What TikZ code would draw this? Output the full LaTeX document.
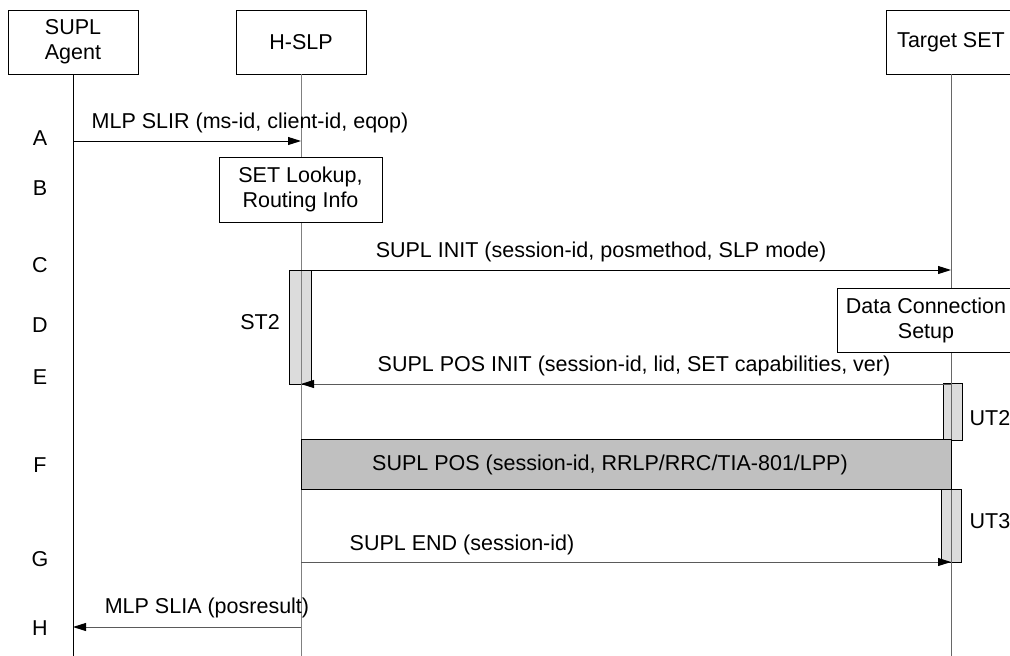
\documentclass[tikz,border=0pt]{standalone}
\usepackage{fontspec}
\setmainfont{Liberation Sans}
\usetikzlibrary{arrows.meta}

\definecolor{lifegray}{HTML}{808080}
\definecolor{timerfill}{HTML}{DCDCDC}
\definecolor{posfill}{HTML}{C0C0C0}

\tikzset{
  entity/.style={draw, fill=white, minimum width=130pt, minimum height=64pt, align=center, inner sep=0pt},
  procbox/.style={draw, fill=white, align=center, inner sep=0pt},
  msg/.style={-{Triangle[length=13pt,width=8pt,color=black]}},
  timerbar/.style={draw, fill=timerfill},
  rowlabel/.style={anchor=center}
}

\begin{document}
\begin{tikzpicture}[x=1pt,y=-1pt, line width=0.9pt,
    every node/.style={font=\fontsize{21.5}{25}\selectfont}]
  \useasboundingbox (0,0) rectangle (1010,656);
  \clip (0,0) rectangle (1010,656);

  % timers
  \draw[timerbar] (289,270) rectangle (311,384);
  \draw[timerbar] (943,383) rectangle (962,440);
  \draw[timerbar] (941,489) rectangle (961,562);

  % entities and lifelines
  \node[entity] (agent) at (73,42) {SUPL\\Agent};
  \node[entity] (hslp) at (301,42) {H-SLP};
  \node[entity] (set) at (951,42) {Target SET};
  \coordinate (agent end) at (73,656);
  \coordinate (hslp end) at (301,656);
  \coordinate (set end) at (951,656);
  \draw (agent.south) -- (agent end);
  \draw[lifegray] (hslp.south) -- (hslp end);
  \draw[lifegray!80!black] (set.south) -- (set end);

  % row labels
  \node[rowlabel] at (40,138) {A};
  \node[rowlabel] at (40,188) {B};
  \node[rowlabel] at (40,265) {C};
  \node[rowlabel] at (40,325) {D};
  \node[rowlabel] at (40,377) {E};
  \node[rowlabel] at (40,465) {F};
  \node[rowlabel] at (40,559) {G};
  \node[rowlabel] at (40,628) {H};

  % A
  \coordinate (a1) at (73,141);
  \coordinate (a2) at (301,141);
  \draw[msg] (a1) -- (a2);
  \node at (250,123) {MLP SLIR (ms-id, client-id, eqop)};

  % B
  \node[procbox, minimum width=163pt, minimum height=65pt] (lookup) at (300.5,189.5) {SET Lookup,\\Routing Info};

  % C
  \coordinate (c1) at (301,270);
  \coordinate (c2) at (951,270);
  \draw[msg] (c1) -- (c2);
  \node at (601,252) {SUPL INIT (session-id, posmethod, SLP mode)};
  \node at (260,322) {ST2};

  % D
  \node[procbox, minimum width=178pt, minimum height=64pt] (dataconn) at (926,320) {Data Connection\\Setup};

  % E
  \coordinate (e1) at (951,384);
  \coordinate (e2) at (301,384);
  \draw[msg, lifegray!70!black] (e1) -- (e2);
  \node at (634,366) {SUPL POS INIT (session-id, lid, SET capabilities, ver)};
  \node at (990,418) {UT2};

  % F
  \draw[fill=posfill] (301,439) rectangle (951,489);
  \node at (610,465) {SUPL POS (session-id, RRLP/RRC/TIA-801/LPP)};

  % G
  \coordinate (g1) at (301,562);
  \coordinate (g2) at (951,562);
  \draw[msg, lifegray!70!black] (g1) -- (g2);
  \node at (462,545) {SUPL END (session-id)};
  \node at (990,521) {UT3};

  % H
  \coordinate (h1) at (301,627);
  \coordinate (h2) at (73,627);
  \draw[msg, lifegray!70!black] (h1) -- (h2);
  \node at (207,608) {MLP SLIA (posresult)};
\end{tikzpicture}
\end{document}
